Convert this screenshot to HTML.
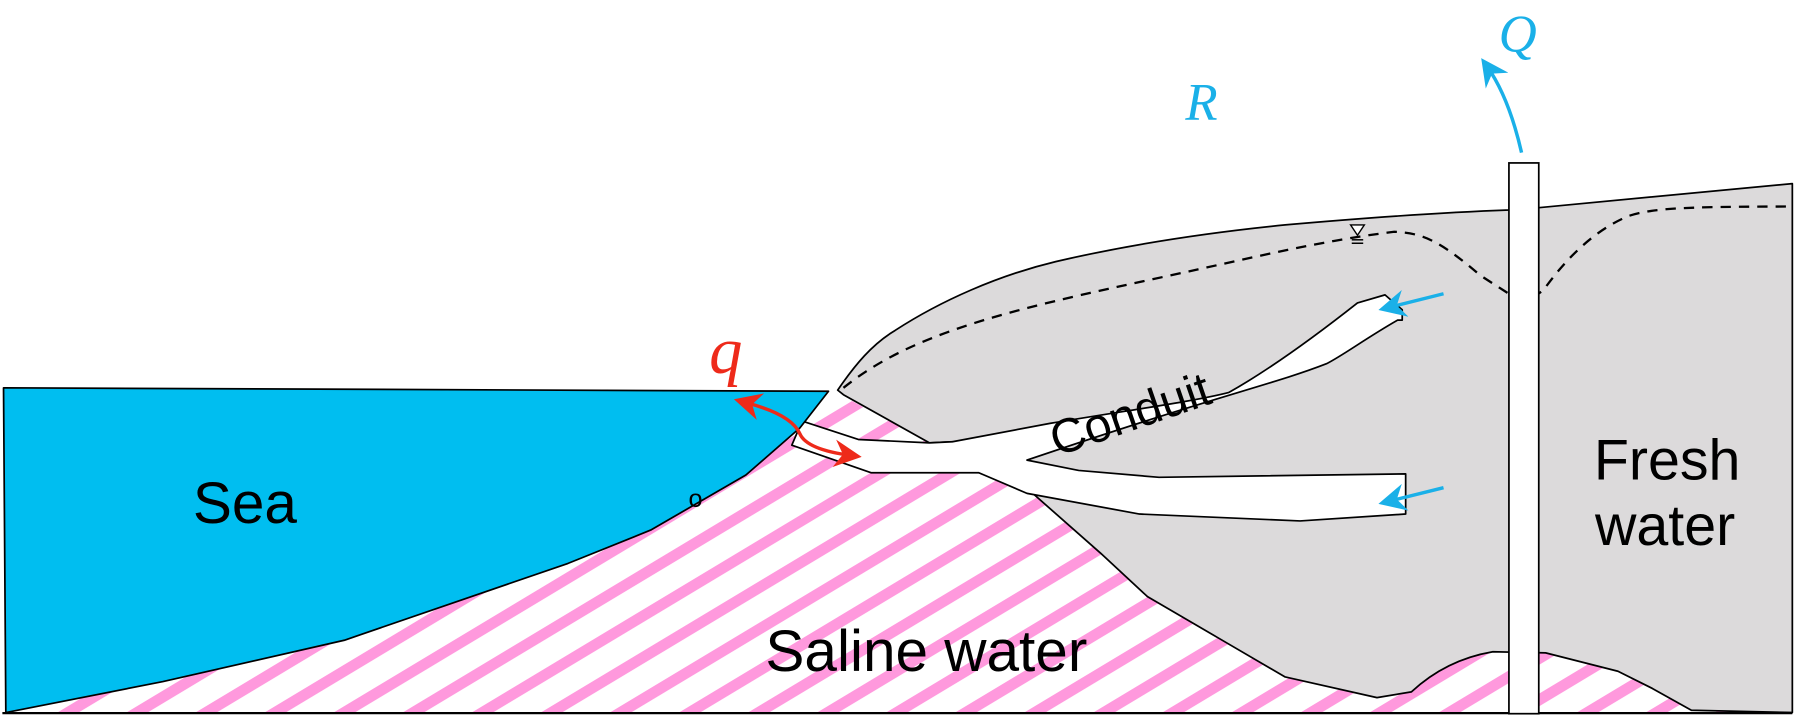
<!DOCTYPE html>
<html><head><meta charset="utf-8"><style>
html,body{margin:0;padding:0;background:#fff;}
svg{display:block;}
</style></head><body>
<svg width="1800" height="720" viewBox="0 0 1568.6 627.5" xmlns="http://www.w3.org/2000/svg">
<defs>
<pattern id="hatch" patternUnits="userSpaceOnUse" width="40" height="31" patternTransform="rotate(-31)">
<rect x="0" y="0" width="40" height="9.5" fill="#ff99dd"/>
</pattern>
<marker id="ab" markerWidth="8" markerHeight="8" refX="5" refY="4" orient="auto" markerUnits="strokeWidth">
<path d="M0,0 L8,4 L0,8 L2.5,4 Z" fill="#1ab0e8"/>
</marker>
<marker id="ar" markerWidth="8" markerHeight="8" refX="5" refY="4" orient="auto" markerUnits="strokeWidth">
<path d="M0,0 L8,4 L0,8 L2.5,4 Z" fill="#ee2a1a"/>
</marker>
<marker id="ar2" markerWidth="8" markerHeight="8" refX="3" refY="4" orient="auto-start-reverse" markerUnits="strokeWidth">
<path d="M0,0 L8,4 L0,8 L2.5,4 Z" fill="#ee2a1a"/>
</marker>
</defs>
<rect width="1568.6" height="627.5" fill="#fff"/>
<polygon points="3,621 725,340 810,386 900,420 1562,420 1562,621" fill="url(#hatch)"/>
<path d="M730,340 C745,318 760,300 780,288 C820,262 870,240 920,228 C980,214 1050,203 1120,196 C1200,189 1260,185 1315,183 L1341,181 L1562,160 L1562,621 L1474,619 L1440,600 L1410,585 L1347,569 L1301,568 Q1260,575 1230,603 L1200,608 L1120,590 L1060,555 L1000,520 L959,482 L900,430 L853,412 L830,385 L810,386 L735,344 Z" fill="#dcdadb" stroke="#000" stroke-width="1.5" stroke-linejoin="round"/>
<path d="M699,367 L748,383 L810,386 L830,385 L915,369 C980,358 1040,350 1071,342 C1110,320 1150,290 1183,264 L1207,257 L1222,270 L1222,279 L1218,279 C1190,295 1170,310 1156,317 C1110,335 1060,345 895,401 L940,410 L1010,416 L1225,413 L1225,448 L1133,454 L993,448 L895,430 L853,412 L759,412 L690,388 Z" fill="#fff" stroke="#000" stroke-width="1.5" stroke-linejoin="round"/>
<polygon points="3,338 722,341 697,373 650,414 567,462 495,491 300,558 142,594 5,621" fill="#00bef0" stroke="#000" stroke-width="1.5" stroke-linejoin="round"/>
<line x1="2" y1="621.5" x2="1562" y2="621.5" stroke="#000" stroke-width="2"/>
<path d="M735,338 C760,318 790,302 830,288 C880,270 950,255 1020,240 C1090,225 1150,210 1215,202 C1240,203 1255,210 1290,240 L1318,258 L1335,260 L1345,253 C1365,225 1390,200 1420,188 C1440,182 1460,180 1562,180" fill="none" stroke="#000" stroke-width="2" stroke-dasharray="9,7"/>
<polygon points="1177,196 1189,196 1183,205" fill="#fff" stroke="#000" stroke-width="1.2"/>
<line x1="1178" y1="209" x2="1188" y2="209" stroke="#000" stroke-width="1.3"/>
<line x1="1178" y1="212" x2="1188" y2="212" stroke="#000" stroke-width="1.3"/>
<rect x="1315" y="142" width="26" height="480" fill="#fff" stroke="#000" stroke-width="1.5"/>
<line x1="1258" y1="256" x2="1210" y2="268" stroke="#1ab0e8" stroke-width="3" marker-end="url(#ab)"/>
<line x1="1258" y1="425" x2="1210" y2="437" stroke="#1ab0e8" stroke-width="3" marker-end="url(#ab)"/>
<path d="M1326,133 Q1315,85 1296,58" fill="none" stroke="#1ab0e8" stroke-width="3" marker-end="url(#ab)"/>
<path d="M654,352 Q690,362 697,378 Q703,392 742,397" fill="none" stroke="#ee2a1a" stroke-width="3" marker-start="url(#ar2)" marker-end="url(#ar)"/>
<g font-family="'Liberation Sans',sans-serif" fill="#000">
<text x="168" y="456" font-size="51">Sea</text>
<text x="667" y="585" font-size="51">Saline water</text>
<text x="1389" y="418" font-size="50">Fresh</text>
<text x="1390" y="475" font-size="50">water</text>
<text x="600" y="442" font-size="22">o</text>
<text x="0" y="0" font-size="42" transform="translate(921,398) rotate(-19)">Conduit</text>
</g>
<g font-family="'Liberation Serif',serif" font-style="italic">
<text x="618" y="325" font-size="58" fill="#ee2a1a">q</text>
<text x="1033" y="104" font-size="46" fill="#1ab0e8">R</text>
<text x="1306" y="45" font-size="46" fill="#1ab0e8">Q</text>
</g>
</svg>
</body></html>
